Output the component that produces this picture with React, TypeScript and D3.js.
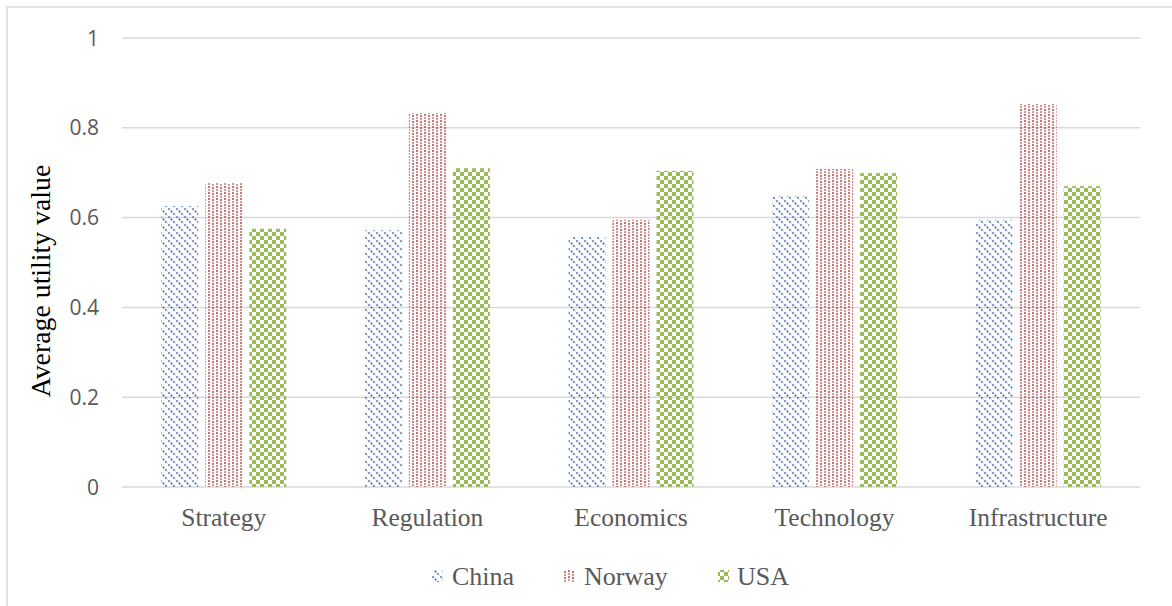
import React from "react";
import * as d3 from "d3";

const categories = ["Strategy", "Regulation", "Economics", "Technology", "Infrastructure"];
const seriesNames = ["China", "Norway", "USA"];
const china = [0.626, 0.572, 0.557, 0.648, 0.595];
const norway = [0.677, 0.833, 0.595, 0.708, 0.853];
const usa = [0.575, 0.71, 0.704, 0.699, 0.67];
const yTicks = [0, 0.2, 0.4, 0.6, 0.8, 1];
const seriesValues = [china, norway, usa];
const colors = ["#4472C4", "#C0504D", "#9BBB59"];

const W = 1172, H = 606;
const left = 122, right = 1140, top = 38, bottom = 487;

export default function App() {
  const x0 = d3.scaleBand().domain(categories).range([left, right]).paddingInner(0).paddingOuter(0);
  const y = d3.scaleLinear().domain([0, 1]).range([bottom, top]);
  const bw = 37, gap = 7;
  const groupW = bw * 3 + gap * 2;
  const x1 = d3.scaleBand().domain(seriesNames).range([0, groupW]).paddingInner(gap / (bw + gap));
  const font = "'Liberation Serif', 'Times New Roman', serif";
  const sans = "'Open Sans', 'Liberation Sans', sans-serif";
  const legendX = [432, 563, 718];
  const legendTextX = [452, 584, 737];
  return (
    <svg width={W} height={H} style={{ position: "absolute", left: 0, top: 0, background: "#fff" }}>
      <defs>
        <pattern id="p0" width="8" height="8" patternUnits="userSpaceOnUse">
          <path d="M-2,-2 L10,10 M-2,6 L2,10 M6,-2 L10,2" stroke={colors[0]} strokeWidth="2" strokeDasharray="2 1.4" opacity="0.85" />
        </pattern>
        <pattern id="p1" width="8" height="6" patternUnits="userSpaceOnUse">
          <rect x="0" y="0" width="2" height="2" fill={colors[1]} opacity="0.8" />
          <rect x="0" y="3" width="2" height="2" fill={colors[1]} opacity="0.6" />
          <rect x="4" y="1" width="2" height="2" fill={colors[1]} opacity="0.8" />
          <rect x="4" y="4" width="2" height="2" fill={colors[1]} opacity="0.6" />
        </pattern>
        <pattern id="p2" width="8" height="8" patternUnits="userSpaceOnUse">
          <rect x="0" y="0" width="4" height="4" fill={colors[2]} />
          <rect x="4" y="4" width="4" height="4" fill={colors[2]} />
        </pattern>
      </defs>
      <rect x={7} y={7} width={W + 10} height={H + 10} fill="#fff" stroke="#D9D9D9" strokeWidth={1.5} />
      {yTicks.map((t) => (
        <g key={t}>
          <line x1={left} x2={right} y1={y(t)} y2={y(t)} stroke="#D9D9D9" strokeWidth={1.5} />
          <text x={99} y={y(t)} dy="0.36em" textAnchor="end" fontFamily={sans} fontSize={21} fill="#595959">
            {d3.format("~g")(t)}
          </text>
        </g>
      ))}
      {categories.map((c, ci) => {
        const gx = (x0(c) as number) + (x0.bandwidth() - groupW) / 2;
        return (
          <g key={c}>
            {seriesNames.map((s, si) => {
              const v = seriesValues[si][ci];
              return (
                <rect key={s} x={gx + (x1(s) as number)} y={y(v)} width={x1.bandwidth()} height={y(0) - y(v)} fill={`url(#p${si})`} />
              );
            })}
            <text x={(x0(c) as number) + x0.bandwidth() / 2} y={526} textAnchor="middle" fontFamily={font} fontSize={25.5} fill="#595959">
              {c}
            </text>
          </g>
        );
      })}
      <text transform={`translate(50,281) rotate(-90)`} textAnchor="middle" fontFamily={font} fontSize={27.8} fill="#000">
        Average utility value
      </text>
      {seriesNames.map((s, si) => (
        <g key={s}>
          <rect x={legendX[si]} y={570} width={11} height={12} fill={`url(#p${si})`} />
          <text x={legendTextX[si]} y={576} dy="0.35em" fontFamily={font} fontSize={26} fill="#595959">
            {s}
          </text>
        </g>
      ))}
    </svg>
  );
}
